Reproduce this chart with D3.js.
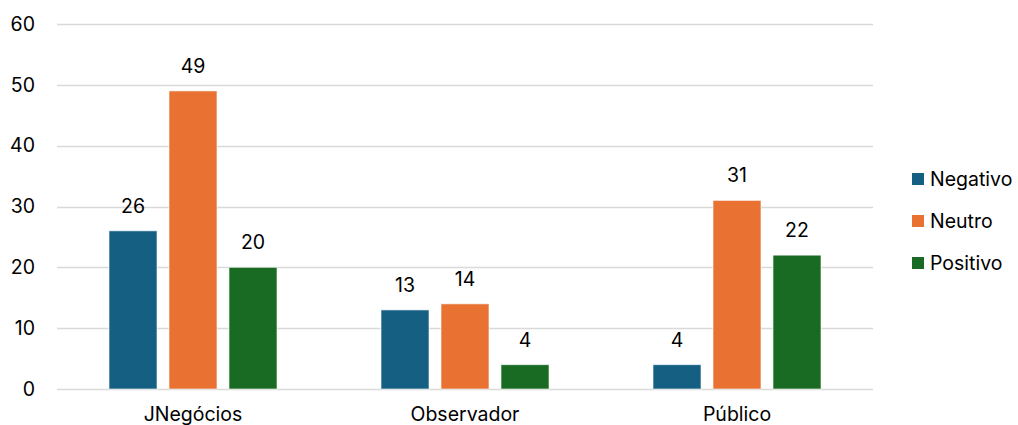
<!DOCTYPE html>
<html><head><meta charset="utf-8">
<script src="https://cdn.jsdelivr.net/npm/d3@7"></script>
<style>html,body{margin:0;padding:0;background:#fff}svg{display:block}</style>
</head><body>
<script>
const categories = ["JNegócios", "Observador", "Público"];
const seriesNames = ["Negativo", "Neutro", "Positivo"];
const negativo = [26, 13, 4];
const neutro = [49, 14, 31];
const positivo = [20, 4, 22];
const yTicks = [0, 10, 20, 30, 40, 50, 60];
const colors = ["#156082", "#E97132", "#196B24"];

const values = [negativo, neutro, positivo];
const W = 1018, H = 425;
const font = "Inter, 'Liberation Sans', Arial, sans-serif";
const fs = 19.5;
const svg = d3.select("body").append("svg").attr("width", W).attr("height", H)
  .style("font-family", font);

const x0 = d3.scaleBand().domain(categories).range([57, 873]).paddingInner(0.3824).paddingOuter(0.1912);
const x1 = d3.scaleBand().domain(seriesNames).range([0, x0.bandwidth()]).paddingInner(0.2).paddingOuter(0);
const y = d3.scaleLinear().domain([0, 60]).range([389, 24]);

// gridlines
svg.append("g").selectAll("line").data(yTicks).join("line")
  .attr("x1", 57).attr("x2", 873)
  .attr("y1", d => Math.round(y(d)) + 0.5).attr("y2", d => Math.round(y(d)) + 0.5)
  .attr("stroke", "#D9D9D9").attr("stroke-width", 1.5);

// y labels
svg.append("g").selectAll("text").data(yTicks).join("text")
  .attr("x", 35).attr("y", d => y(d)).attr("dy", "0.35em")
  .attr("text-anchor", "end").attr("font-size", fs).attr("fill", "#000")
  .text(d => d);

// bars
const groups = svg.append("g").selectAll("g").data(categories).join("g")
  .attr("transform", d => `translate(${x0(d)},0)`);
groups.each(function(cat, ci) {
  const g = d3.select(this);
  seriesNames.forEach((s, si) => {
    const v = values[si][ci];
    g.append("rect")
      .attr("x", x1(s)).attr("width", x1.bandwidth())
      .attr("y", y(v)).attr("height", y(0) - y(v))
      .attr("fill", colors[si]).attr("stroke", "#fff").attr("stroke-opacity", 0.6).attr("stroke-width", 1);
    g.append("text")
      .attr("x", x1(s) + x1.bandwidth() / 2).attr("y", y(v) - 18)
      .attr("text-anchor", "middle").attr("font-size", fs).attr("fill", "#000")
      .text(v);
  });
});

// category labels
svg.append("g").selectAll("text").data(categories).join("text")
  .attr("x", d => x0(d) + x0.bandwidth() / 2).attr("y", 421)
  .attr("text-anchor", "middle").attr("font-size", fs).attr("fill", "#000")
  .text(d => d);

// legend
const lg = svg.append("g").selectAll("g").data(seriesNames).join("g")
  .attr("transform", (d, i) => `translate(912,${179 + i * 42})`);
lg.append("rect").attr("x", 0).attr("y", -6).attr("width", 12).attr("height", 12)
  .attr("fill", (d, i) => colors[i]);
lg.append("text").attr("x", 18).attr("y", 0).attr("dy", "0.35em")
  .attr("font-size", fs).attr("fill", "#000").text(d => d);
</script>
</body></html>
